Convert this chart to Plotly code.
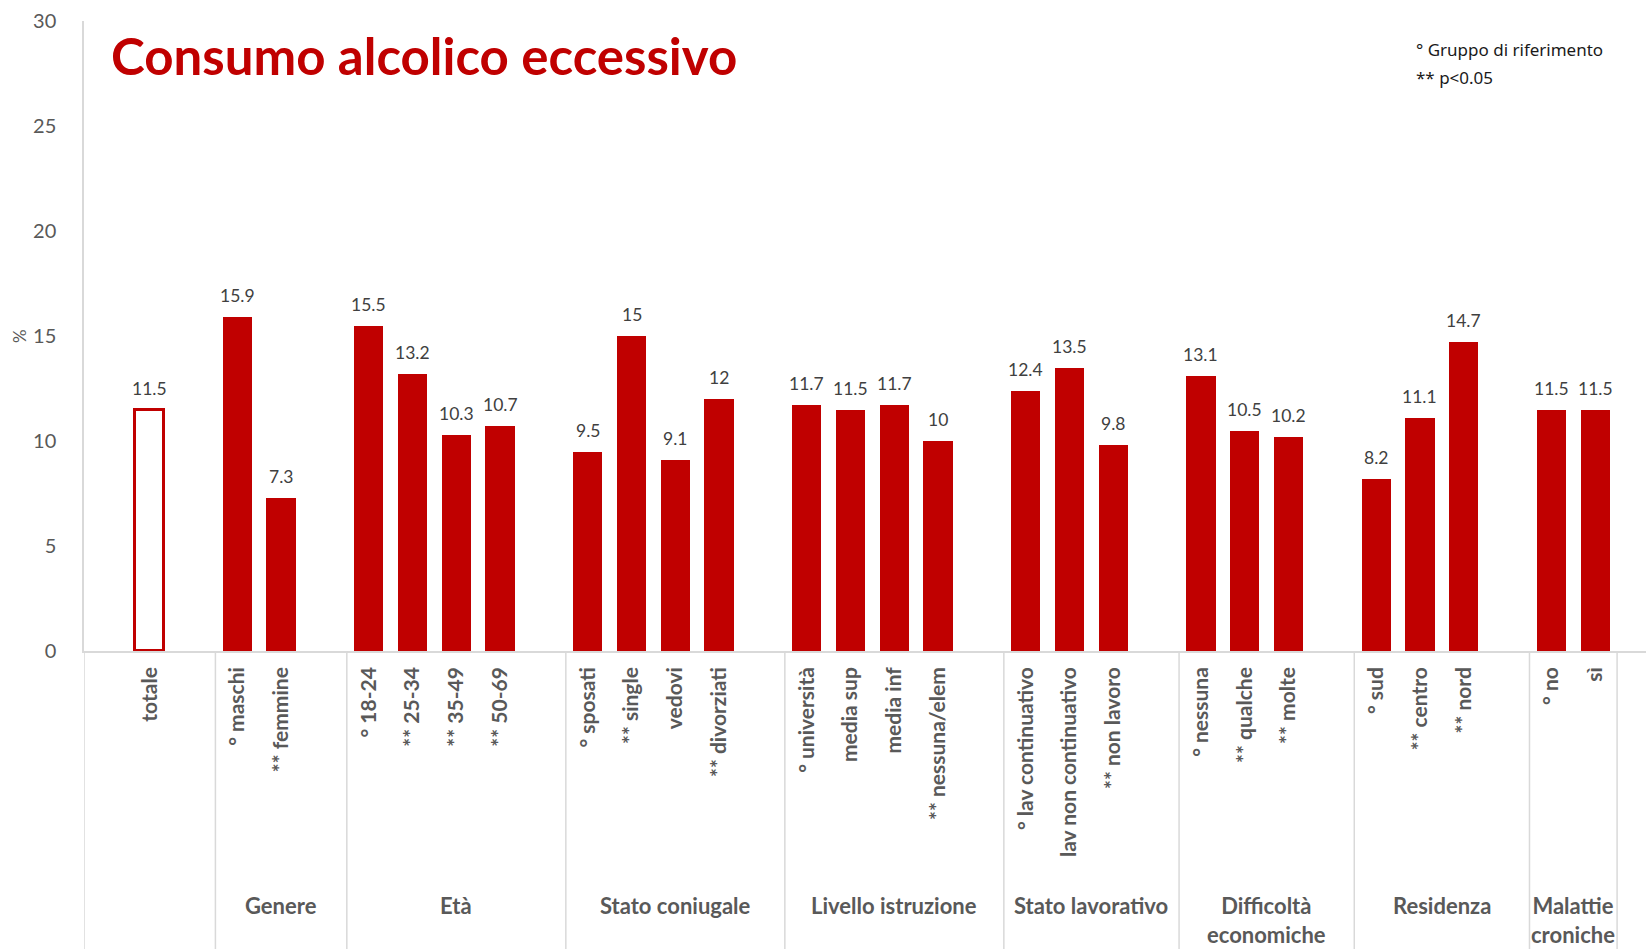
import plotly.graph_objects as go

# Excessive alcohol consumption (%) by population subgroup
categories = [
    "totale",
    "° maschi", "** femmine",
    "° 18-24", "** 25-34", "** 35-49", "** 50-69",
    "° sposati", "** single", "vedovi", "** divorziati",
    "° università", "media sup", "media inf", "** nessuna/elem",
    "° lav continuativo", "lav non continuativo", "** non lavoro",
    "° nessuna", "** qualche", "** molte",
    "° sud", "** centro", "** nord",
    "° no", "sì",
]
values = [
    11.5,
    15.9, 7.3,
    15.5, 13.2, 10.3, 10.7,
    9.5, 15, 9.1, 12,
    11.7, 11.5, 11.7, 10,
    12.4, 13.5, 9.8,
    13.1, 10.5, 10.2,
    8.2, 11.1, 14.7,
    11.5, 11.5,
]
group_names = [
    "", "Genere", "Età", "Stato coniugale", "Livello istruzione",
    "Stato lavorativo", "Difficoltà<br>economiche", "Residenza",
    "Malattie<br>croniche",
]
group_sizes = [1, 2, 4, 4, 4, 3, 3, 3, 2]

title_text = "Consumo alcolico eccessivo"
note_lines = ["° Gruppo di riferimento", "** p<0.05"]

RED = "#C00000"
GRAY = "#595959"
LINE = "#D9D9D9"

# slot positions: one empty slot before the first group and between groups
positions = []
group_bounds = []
cursor = 1
for size in group_sizes:
    start = cursor
    positions.extend(range(start, start + size))
    group_bounds.append((start - 0.5, start + size - 0.5))
    cursor = start + size + 1

# dividers: start of every group after the first, plus end of the last group
dividers = [-0.5] + [b[0] for b in group_bounds[1:]] + [group_bounds[-1][1]]
group_spans = []
for i in range(1, len(group_bounds)):
    left = group_bounds[i][0]
    right = group_bounds[i + 1][0] if i + 1 < len(group_bounds) else group_bounds[i][1]
    group_spans.append((left, right))

fig = go.Figure()

# overall bar: outline only
fig.add_trace(go.Bar(
    x=positions[:1], y=values[:1], width=0.66,
    marker=dict(color="white", line=dict(color=RED, width=3)),
    hoverinfo="x+y",
))
# subgroup bars
fig.add_trace(go.Bar(
    x=positions[1:], y=values[1:], width=0.67,
    marker=dict(color=RED, line=dict(width=0)),
    hoverinfo="x+y",
))

annotations = []
for x, v in zip(positions, values):
    annotations.append(dict(
        x=x, y=v, xref="x", yref="y", text=f"{v:g}", showarrow=False,
        yanchor="bottom", yshift=9,
        font=dict(family="Lato", size=17.5, color="#404040"),
    ))

for name, (l, r) in zip(group_names[1:], group_spans):
    annotations.append(dict(
        x=(l + r) / 2, y=-0.379, xref="x", yref="paper", text=name,
        showarrow=False, yanchor="top", align="center",
        font=dict(family="Lato", size=22, color=GRAY, weight="bold"),
    ))

annotations.append(dict(
    x=0.016, y=0.946, xref="paper", yref="paper", text=title_text,
    showarrow=False, xanchor="left", yanchor="middle",
    font=dict(family="Lato", size=51, color=RED, weight="bold"),
))
for line, yy in zip(note_lines, [0.954, 0.910]):
    annotations.append(dict(
        x=0.8515, y=yy, xref="paper", yref="paper", text=line,
        showarrow=False, xanchor="left", yanchor="middle",
        font=dict(family="Noto Sans", size=17, color="#1a1a1a"),
    ))

annotations.append(dict(
    x=0, y=15, xref="paper", yref="y", text="%", showarrow=False,
    xanchor="center", yanchor="middle", xshift=-65, textangle=-90,
    font=dict(family="Lato", size=17, color=GRAY),
))

shapes = []
for d in dividers:
    shapes.append(dict(
        type="line", xref="x", yref="paper", x0=d, x1=d, y0=0, y1=-0.6,
        line=dict(color=LINE, width=1.5),
    ))

fig.update_layout(
    width=1646, height=949,
    margin=dict(l=84, r=0, t=21, b=298),
    paper_bgcolor="white", plot_bgcolor="white",
    showlegend=False,
    bargap=0,
    annotations=annotations,
    shapes=shapes,
    xaxis=dict(
        range=[-0.5, 35.16],
        tickmode="array", tickvals=positions, ticktext=categories,
        tickangle=-90, ticks="", ticklabelstandoff=6,
        tickfont=dict(family="Lato", size=21, color=GRAY, weight="bold"),
        showline=True, linecolor=LINE, linewidth=1.5,
        showgrid=False, zeroline=False, fixedrange=True,
    ),
    yaxis=dict(
        range=[0, 30], tickmode="array", tickvals=[0, 5, 10, 15, 20, 25, 30],
        ticks="", ticklabelstandoff=22,
        tickfont=dict(family="Lato", size=20, color=GRAY),
        showline=True, linecolor=LINE, linewidth=1.5,
        showgrid=False, zeroline=False, fixedrange=True,
    ),
)

fig.write_html("out.html")
